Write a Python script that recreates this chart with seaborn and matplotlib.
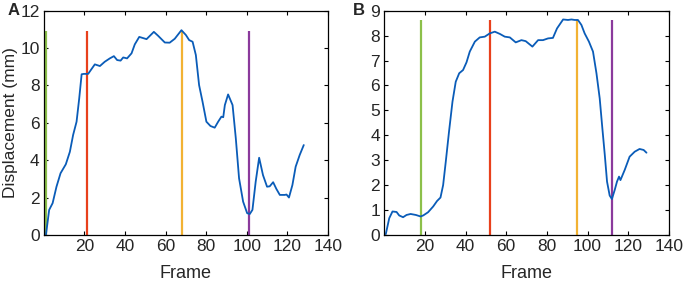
import numpy as np
import pandas as pd
import matplotlib
matplotlib.use("Agg")
import matplotlib.pyplot as plt
import seaborn as sns

# panel A trace
frame_a = [1, 2.6, 4.3, 6.2, 8.2, 10.8, 12.8, 14.4, 16.1, 17.4, 18.6, 19.7, 21.8,
           25.1, 27.6, 30, 32.5, 34.5, 36.1, 37.8, 39.1, 41, 43.2, 44.8, 47,
           50.6, 54.2, 56.3, 59.6, 62, 64.5, 67.8, 70, 71.6, 73.3, 74.9, 76.5,
           78.2, 80.1, 82.1, 84.2, 85.9, 87.5, 88.4, 89.2, 90.8, 93, 94.6, 96.2,
           98.2, 100.2, 101.5, 102.8, 104.4, 106.1, 108, 110, 111.3, 113, 114.6,
           116.3, 118.7, 119.6, 120.8, 122.5, 124.1, 126.1, 128.1]
disp_a = [0.0, 1.34, 1.7, 2.58, 3.3, 3.78, 4.45, 5.35, 6.06, 7.3, 8.6, 8.62, 8.62,
          9.13, 9.04, 9.27, 9.45, 9.57, 9.36, 9.33, 9.5, 9.45, 9.72, 10.2, 10.6,
          10.48, 10.87, 10.66, 10.3, 10.29, 10.5, 10.96, 10.7, 10.43, 10.34, 9.63,
          8.02, 7.13, 6.06, 5.83, 5.74, 6.06, 6.33, 6.3, 6.95, 7.52, 6.95, 5.17,
          3.03, 1.78, 1.16, 1.12, 1.34, 2.85, 4.13, 3.2, 2.58, 2.6, 2.82, 2.46,
          2.14, 2.14, 2.16, 2.0, 2.67, 3.65, 4.28, 4.81]

# panel B trace
frame_b = [0.8, 2.5, 4.1, 6.1, 7.4, 9.3, 11, 13, 15.6, 17.9, 19.2, 21.6, 24.1,
           26, 27.7, 29, 30.3, 31.9, 33.6, 35.2, 36.9, 38.8, 40.5, 42.1, 44.6,
           47, 49.5, 51.9, 54.4, 56.9, 59.3, 61.8, 64.7, 67.5, 69.6, 72.9, 75.7,
           78.1, 80.6, 83, 85, 88, 90.4, 92.1, 93.7, 95.3, 97, 98.6, 100.7,
           102.7, 104.4, 106, 107.3, 108.5, 109.6, 110.9, 112, 113.4, 114.5,
           115.5, 116.2, 118.3, 120.7, 123.2, 125.6, 127.6, 129]
disp_b = [0.03, 0.67, 0.94, 0.92, 0.78, 0.71, 0.8, 0.84, 0.8, 0.74, 0.78, 0.91,
          1.14, 1.36, 1.5, 2.0, 2.94, 4.15, 5.35, 6.15, 6.49, 6.62, 6.93, 7.36,
          7.76, 7.93, 7.96, 8.09, 8.16, 8.07, 7.96, 7.93, 7.73, 7.82, 7.78, 7.56,
          7.82, 7.82, 7.89, 7.91, 8.29, 8.65, 8.63, 8.65, 8.63, 8.63, 8.43, 8.09,
          7.76, 7.36, 6.49, 5.48, 4.28, 3.21, 2.14, 1.58, 1.44, 1.81, 2.14, 2.34,
          2.2, 2.61, 3.14, 3.34, 3.45, 3.41, 3.3]

# event markers
events_a = [1, 21, 68, 101]
top_a = 10.93
events_b = [18, 52, 95, 112]
top_b = 8.63
event_colors = ["#8cc04a", "#e8401c", "#f2b233", "#8b3a9c"]

sns.set_style("ticks")
plt.rcParams["font.family"] = ["Liberation Sans", "DejaVu Sans"]
plt.rcParams["xtick.direction"] = "in"
plt.rcParams["ytick.direction"] = "in"

fig = plt.figure(figsize=(6.86, 2.83), dpi=100)
ax_a = fig.add_axes([0.064, 0.17, 0.414, 0.792])
ax_b = fig.add_axes([0.560, 0.17, 0.415, 0.792])

panels = [
    (ax_a, frame_a, disp_a, events_a, top_a, 12, np.arange(0, 13, 2), "A", -0.127),
    (ax_b, frame_b, disp_b, events_b, top_b, 9, np.arange(0, 10, 1), "B", -0.11),
]

for ax, fr, dp, ev, top, ymax, yt, lab, lx in panels:
    for x, c in zip(ev, event_colors):
        ax.vlines(x, 0, top, color=c, lw=1.6, zorder=1)
    df = pd.DataFrame({"Frame": fr, "Displacement": dp})
    sns.lineplot(data=df, x="Frame", y="Displacement", ax=ax,
                 color="#0a5cb8", lw=1.3, zorder=2)
    ax.set_xlim(0, 140)
    ax.set_ylim(0, ymax)
    ax.set_xticks(np.arange(20, 141, 20))
    ax.set_yticks(yt)
    ax.tick_params(top=True, right=True, labelsize=12.5, length=3, width=0.8,
                   pad=3, color="black")
    for s in ax.spines.values():
        s.set_visible(True)
        s.set_linewidth(0.9)
        s.set_color("black")
    ax.set_xlabel("Frame", fontsize=13, labelpad=8)
    ax.set_ylabel("")
    ax.text(lx, 1.0, lab, transform=ax.transAxes,
            fontsize=12, fontweight="bold", ha="left", va="center")

ax_a.set_ylabel("Displacement (mm)", fontsize=12.5, labelpad=2)

fig.savefig("out.png", dpi=100)
